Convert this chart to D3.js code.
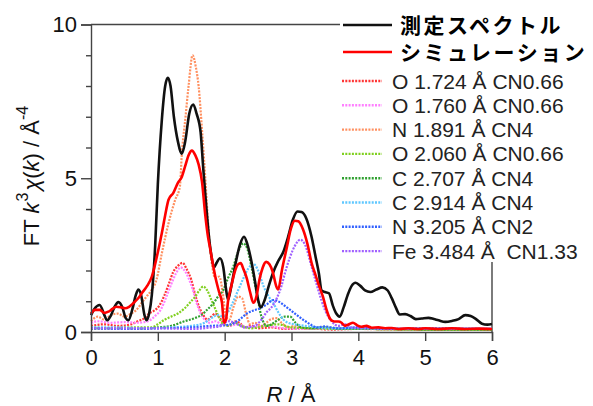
<!DOCTYPE html>
<html>
<head>
<meta charset="utf-8">
<script src="https://cdn.jsdelivr.net/npm/d3@7"></script>
<style>
  body { margin: 0; background: #fff; }
  svg { display: block; }
</style>
</head>
<body>
<script>
var measured = [[0,0.55],[0.05,0.75],[0.13,0.88],[0.2,0.55],[0.24,0.38],[0.3,0.55],[0.36,0.85],[0.41,0.97],[0.47,0.8],[0.52,0.45],[0.56,0.38],[0.62,0.75],[0.67,1.2],[0.71,1.38],[0.75,1.2],[0.8,0.55],[0.83,0.38],[0.87,0.6],[0.91,1.2],[0.96,2.8],[1.0,4.8],[1.06,6.9],[1.11,8.0],[1.15,8.27],[1.19,8.0],[1.24,7.0],[1.3,6.2],[1.36,5.8],[1.41,6.2],[1.47,7.1],[1.53,7.4],[1.58,7.1],[1.64,6.5],[1.68,5.3],[1.72,4.2],[1.76,3.2],[1.8,2.5],[1.84,2.1],[1.88,2.25],[1.93,2.4],[1.98,2.1],[2.02,1.4],[2.05,1.05],[2.1,1.5],[2.17,2.3],[2.23,2.85],[2.29,3.1],[2.34,2.85],[2.4,2.3],[2.45,1.7],[2.5,1.05],[2.54,0.8],[2.6,1.05],[2.66,1.5],[2.73,1.96],[2.8,2.3],[2.88,2.62],[2.95,3.1],[3.02,3.65],[3.09,3.92],[3.15,3.9],[3.22,3.7],[3.3,3.1],[3.36,2.45],[3.41,1.9],[3.45,1.35],[3.5,1.3],[3.56,1.26],[3.62,0.85],[3.67,0.6],[3.72,0.5],[3.78,0.8],[3.84,1.2],[3.9,1.5],[3.96,1.6],[4.03,1.5],[4.1,1.35],[4.18,1.3],[4.27,1.38],[4.36,1.45],[4.44,1.35],[4.5,1.1],[4.56,0.8],[4.62,0.57],[4.7,0.58],[4.78,0.52],[4.86,0.42],[4.95,0.44],[5.05,0.46],[5.13,0.42],[5.2,0.38],[5.3,0.33],[5.4,0.36],[5.5,0.42],[5.6,0.55],[5.68,0.52],[5.76,0.42],[5.85,0.27],[5.93,0.24],[6.0,0.26]];

var simulation = [[0,0.6],[0.06,0.72],[0.13,0.72],[0.2,0.62],[0.26,0.66],[0.32,0.75],[0.38,0.82],[0.45,0.8],[0.51,0.77],[0.57,0.82],[0.63,0.93],[0.7,1.08],[0.76,1.26],[0.84,1.5],[0.91,1.8],[0.98,2.4],[1.06,3.22],[1.11,3.8],[1.16,4.3],[1.23,4.52],[1.3,4.85],[1.36,5.05],[1.41,5.4],[1.46,5.75],[1.51,5.9],[1.56,5.75],[1.61,5.45],[1.66,4.9],[1.71,3.8],[1.75,3.1],[1.78,2.75],[1.82,2.25],[1.86,1.8],[1.91,1.35],[1.96,0.95],[1.99,0.3],[2.02,0.4],[2.05,1.0],[2.1,1.5],[2.15,1.95],[2.2,2.2],[2.24,2.24],[2.28,2.05],[2.33,1.75],[2.38,1.3],[2.43,0.95],[2.48,1.2],[2.52,1.7],[2.57,2.1],[2.62,2.28],[2.67,2.2],[2.72,1.95],[2.77,1.5],[2.8,1.38],[2.86,2.05],[2.93,2.75],[2.99,3.35],[3.05,3.62],[3.1,3.6],[3.17,3.35],[3.24,2.85],[3.3,2.25],[3.36,1.85],[3.42,1.45],[3.47,1.15],[3.52,0.75],[3.58,0.42],[3.64,0.34],[3.7,0.34],[3.75,0.3],[3.8,0.2],[3.86,0.25],[3.92,0.3],[3.98,0.22],[4.05,0.17],[4.12,0.2],[4.2,0.14],[4.3,0.15],[4.4,0.12],[4.5,0.13],[4.6,0.1],[4.75,0.12],[4.9,0.1],[5.0,0.12],[5.2,0.1],[5.4,0.12],[5.6,0.1],[5.8,0.11],[6,0.1]];

// single-shell contributions
var o1724 = [[0,0.2],[0.2,0.25],[0.4,0.2],[0.6,0.25],[0.7,0.35],[0.8,0.45],[0.88,0.62],[0.95,0.7],[1.02,0.85],[1.1,1.2],[1.17,1.6],[1.23,1.95],[1.3,2.15],[1.37,2.25],[1.43,2.05],[1.5,1.7],[1.56,1.2],[1.62,0.8],[1.68,0.55],[1.74,0.4],[1.8,0.5],[1.86,0.6],[1.93,0.45],[2.0,0.25],[2.08,0.2],[2.15,0.35],[2.22,0.3],[2.3,0.15],[2.4,0.2],[2.5,0.12],[2.7,0.15],[2.9,0.1],[3.2,0.12],[3.6,0.08],[4,0.1],[5,0.08],[6,0.08]];
var o1760 = [[0,0.3],[0.1,0.35],[0.3,0.3],[0.5,0.32],[0.7,0.3],[0.85,0.35],[0.95,0.5],[1.05,0.75],[1.12,1.1],[1.2,1.55],[1.27,1.9],[1.34,2.1],[1.4,2.0],[1.46,1.75],[1.52,1.4],[1.58,0.95],[1.64,0.6],[1.7,0.4],[1.78,0.3],[1.86,0.35],[1.95,0.25],[2.05,0.2],[2.2,0.25],[2.35,0.15],[2.6,0.2],[2.9,0.12],[3.3,0.1],[4,0.12],[5,0.1],[6,0.1]];
var n1891 = [[0,0.35],[0.1,0.5],[0.2,0.4],[0.3,0.55],[0.4,0.6],[0.5,0.5],[0.6,0.6],[0.68,0.72],[0.76,0.95],[0.83,1.15],[0.9,1.35],[0.98,1.7],[1.06,2.56],[1.16,3.54],[1.26,4.3],[1.33,4.73],[1.36,5.82],[1.41,6.9],[1.46,8.0],[1.52,9.0],[1.57,8.6],[1.61,8.0],[1.66,6.6],[1.71,5.0],[1.76,3.3],[1.81,2.2],[1.86,1.75],[1.92,1.8],[1.97,1.3],[2.02,0.5],[2.07,0.4],[2.13,0.8],[2.2,1.15],[2.26,1.1],[2.32,0.6],[2.38,0.25],[2.45,0.3],[2.55,0.2],[2.62,0.3],[2.7,0.42],[2.78,0.45],[2.85,0.3],[2.95,0.15],[3.05,0.2],[3.2,0.12],[3.4,0.15],[3.6,0.12],[3.8,0.12],[4,0.1],[5,0.08],[6,0.08]];
var o2060 = [[0,0.15],[0.3,0.12],[0.6,0.15],[0.9,0.15],[1.0,0.25],[1.1,0.4],[1.2,0.5],[1.3,0.6],[1.4,0.77],[1.5,1.0],[1.56,1.15],[1.62,1.35],[1.68,1.48],[1.74,1.35],[1.8,1.05],[1.86,0.75],[1.92,0.45],[1.98,0.25],[2.05,0.2],[2.15,0.3],[2.25,0.2],[2.4,0.12],[2.6,0.2],[2.8,0.25],[3.0,0.15],[3.3,0.12],[3.6,0.1],[4,0.1],[5,0.08],[6,0.08]];
var c2707 = [[0,0.1],[0.4,0.12],[0.8,0.1],[1.0,0.15],[1.2,0.2],[1.4,0.35],[1.55,0.45],[1.65,0.55],[1.75,0.75],[1.83,0.93],[1.9,1.15],[1.98,1.37],[2.05,1.75],[2.13,2.13],[2.2,2.6],[2.28,2.88],[2.34,2.7],[2.4,2.13],[2.48,1.26],[2.55,0.5],[2.63,0.2],[2.7,0.25],[2.8,0.4],[2.9,0.5],[2.98,0.5],[3.06,0.3],[3.15,0.15],[3.3,0.12],[3.5,0.15],[3.7,0.1],[4,0.1],[5,0.08],[6,0.08]];
var c2914 = [[0,0.15],[0.4,0.15],[0.8,0.12],[1.2,0.15],[1.5,0.2],[1.7,0.3],[1.8,0.45],[1.9,0.55],[1.98,0.5],[2.05,0.65],[2.12,0.95],[2.2,1.35],[2.27,1.7],[2.35,2.05],[2.43,2.22],[2.5,2.0],[2.58,1.5],[2.66,1.15],[2.73,0.93],[2.8,0.65],[2.88,0.4],[2.95,0.3],[3.05,0.25],[3.2,0.2],[3.4,0.15],[3.6,0.12],[4,0.12],[5,0.1],[6,0.1]];
var n3205 = [[0,0.12],[0.5,0.1],[1.0,0.12],[1.5,0.15],[1.8,0.2],[2.0,0.22],[2.13,0.28],[2.25,0.45],[2.33,0.6],[2.43,0.7],[2.53,0.77],[2.63,0.9],[2.73,1.04],[2.8,1.0],[2.9,0.85],[2.98,0.72],[3.08,0.55],[3.18,0.39],[3.28,0.25],[3.38,0.15],[3.5,0.18],[3.7,0.12],[4,0.15],[4.5,0.1],[5,0.12],[6,0.1]];
var fe3484 = [[0,0.12],[0.5,0.12],[1.0,0.12],[1.5,0.1],[1.8,0.15],[1.95,0.2],[2.05,0.35],[2.15,0.3],[2.3,0.15],[2.45,0.2],[2.55,0.4],[2.63,0.65],[2.7,0.8],[2.78,1.1],[2.85,1.5],[2.9,1.9],[2.98,2.45],[3.05,2.8],[3.13,3.0],[3.2,2.85],[3.3,2.13],[3.4,1.37],[3.5,0.72],[3.6,0.35],[3.7,0.2],[3.8,0.25],[3.9,0.15],[4.1,0.12],[4.5,0.1],[5,0.1],[6,0.1]];

var shellData = [o1724, o1760, n1891, o2060, c2707, c2914, n3205, fe3484];
var shellNames = ["O 1.724 Å CN0.66", "O 1.760 Å CN0.66", "N 1.891 Å CN4", "O 2.060 Å CN0.66",
                  "C 2.707 Å CN4", "C 2.914 Å CN4", "N 3.205 Å CN2", "Fe 3.484 Å\u00a0 CN1.33"];
var shellColors = ["#ff3535", "#ff80ff", "#ff9060", "#80d020", "#30a030", "#60c8ff", "#3060ff", "#a060ff"];

var xTicks = [0, 1, 2, 3, 4, 5, 6];
var yTicks = [0, 5, 10];
var yMinor = [1, 2, 3, 4, 6, 7, 8, 9];

var width = 593, height = 406;
var svg = d3.select("body").append("svg")
    .attr("width", width)
    .attr("height", height)
    .style("font-family", "'Liberation Sans', Arial, sans-serif");

var x = d3.scaleLinear().domain([0, 6]).range([91, 492]);
var y = d3.scaleLinear().domain([0, 10]).range([332, 24.5]);

var line = d3.line()
    .x(function (d) { return x(d[0]); })
    .y(function (d) { return y(d[1]); })
    .curve(d3.curveMonotoneX);

// frame (top and right, partly hidden by legend)
svg.append("line").attr("x1", x(0)).attr("x2", x(6)).attr("y1", y(10)).attr("y2", y(10))
    .attr("stroke", "#444").attr("stroke-width", 1.4);
svg.append("line").attr("x1", x(6)).attr("x2", x(6)).attr("y1", y(10)).attr("y2", y(0))
    .attr("stroke", "#444").attr("stroke-width", 1.4);

// curves
var plot = svg.append("g");
shellData.forEach(function (d, i) {
    plot.append("path")
        .attr("fill", "none")
        .attr("stroke", shellColors[i])
        .attr("stroke-width", 2.2)
        .attr("stroke-dasharray", "2,1.3")
        .attr("d", line(d));
});
plot.append("path").attr("fill", "none").attr("stroke", "#111").attr("stroke-width", 2.6)
    .attr("stroke-linejoin", "round").attr("d", line(measured));
plot.append("path").attr("fill", "none").attr("stroke", "#ff0000").attr("stroke-width", 2.6)
    .attr("stroke-linejoin", "round").attr("d", line(simulation));

// axes
var xAxis = svg.append("g").attr("transform", "translate(0," + y(0) + ")")
    .call(d3.axisBottom(x).tickValues(xTicks).tickSize(9).tickPadding(8).tickFormat(d3.format("d")));
var yAxis = svg.append("g").attr("transform", "translate(" + x(0) + ",0)")
    .call(d3.axisLeft(y).tickValues(yTicks).tickSize(10).tickPadding(4).tickFormat(d3.format("d")));
svg.append("g").attr("transform", "translate(" + x(0) + ",0)")
    .call(d3.axisLeft(y).tickValues(yMinor).tickSize(5).tickFormat(""))
    .select(".domain").remove();

svg.selectAll(".domain").attr("stroke", "#444").attr("stroke-width", 1.4);
svg.selectAll(".tick line").attr("stroke", "#444").attr("stroke-width", 1.4);
svg.selectAll(".tick text").attr("font-size", 22).attr("fill", "#111")
    .style("font-family", "'Liberation Sans', Arial, sans-serif");

// legend box
var lg = svg.append("g");
lg.append("rect").attr("x", 340).attr("y", 0).attr("width", 253).attr("height", 262).attr("fill", "#fff");

var mainNames = ["測定スペクトル", "シミュレーション"];
var mainColors = ["#111", "#ff0000"];
mainNames.forEach(function (n, i) {
    var yy = 25 + i * 27;
    lg.append("line").attr("x1", 343).attr("x2", 392).attr("y1", yy).attr("y2", yy)
        .attr("stroke", mainColors[i]).attr("stroke-width", 2.6);
    lg.append("text").attr("x", 400).attr("y", yy).attr("dy", "0.36em")
        .attr("font-size", 21).attr("font-weight", "bold").attr("letter-spacing", 2.5)
        .style("font-family", "'Noto Sans CJK JP', sans-serif")
        .text(n);
});
shellNames.forEach(function (n, i) {
    var yy = 81 + i * 24.3;
    lg.append("line").attr("x1", 342).attr("x2", 382).attr("y1", yy).attr("y2", yy)
        .attr("stroke", shellColors[i]).attr("stroke-width", 2.4).attr("stroke-dasharray", "2,1.3");
    lg.append("text").attr("x", 392).attr("y", yy).attr("dy", "0.36em")
        .attr("font-size", 21).attr("fill", "#222")
        .text(n);
});

// axis titles
var xt = svg.append("text").attr("x", 291).attr("y", 402).attr("text-anchor", "middle")
    .attr("font-size", 22).attr("fill", "#111");
xt.append("tspan").attr("font-style", "italic").text("R");
xt.append("tspan").text(" / Å");

var yt = svg.append("text").attr("transform", "translate(39,176) rotate(-90)")
    .attr("text-anchor", "middle").attr("font-size", 22).attr("fill", "#111");
yt.append("tspan").text("FT ");
yt.append("tspan").attr("font-style", "italic").text("k");
yt.append("tspan").attr("font-size", 16).attr("dy", -11).attr("dx", 1).text("3");
yt.append("tspan").attr("font-style", "italic").attr("dy", 11).attr("dx", 2).text("χ");
yt.append("tspan").text("(");
yt.append("tspan").attr("font-style", "italic").text("k");
yt.append("tspan").text(") / Å");
yt.append("tspan").attr("font-size", 16).attr("dy", -11).text("-4");
</script>
</body>
</html>
